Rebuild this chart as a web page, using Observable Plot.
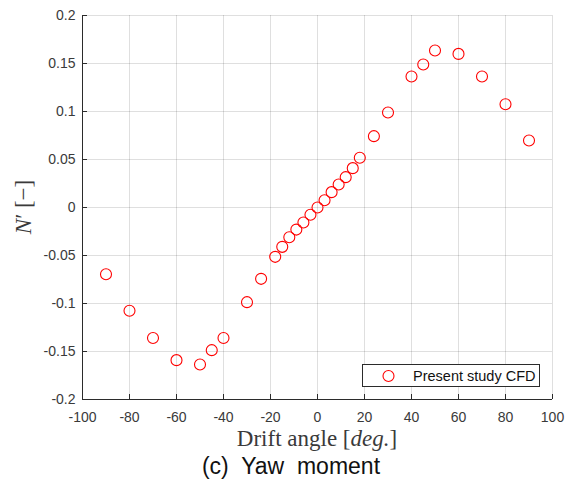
<!DOCTYPE html>
<html><head><meta charset="utf-8">
<script src="https://cdn.jsdelivr.net/npm/d3@7"></script>
<script src="https://cdn.jsdelivr.net/npm/@observablehq/plot@0.6"></script>
<style>
body{margin:0;background:#fff;}
#wrap{position:relative;width:574px;height:488px;background:#fff;overflow:hidden;}
#wrap svg{position:absolute;left:0;top:0;}
#caption{position:absolute;left:0;width:582px;top:455px;text-align:center;font-family:"Liberation Sans",Arial,sans-serif;font-size:23px;line-height:22px;color:#111;white-space:pre;}
</style></head><body><div id="wrap"></div>
<script>
const driftAngle = [-90,-80,-70,-60,-50,-45,-40,-30,-24,-18,-15,-12,-9,-6,-3,0,3,6,9,12,15,18,24,30,40,45,50,60,70,80,90];
const yawMoment = [-0.0695,-0.1076,-0.136,-0.159,-0.1635,-0.1486,-0.136,-0.0986,-0.0743,-0.0514,-0.041,-0.031,-0.023,-0.0156,-0.0076,0,0.0076,0.016,0.024,0.0316,0.041,0.0518,0.0743,0.099,0.1365,0.149,0.1635,0.160,0.1365,0.1076,0.0698];
const xTicks = [-100,-80,-60,-40,-20,0,20,40,60,80,100];
const xTickLabels = ["-100","-80","-60","-40","-20","0","20","40","60","80","100"];
const yTicks = [-0.2,-0.15,-0.1,-0.05,0,0.05,0.1,0.15,0.2];
const yTickLabels = ["-0.2","-0.15","-0.1","-0.05","0","0.05","0.1","0.15","0.2"];
const seriesName = "Present study CFD";
const captionText = "(c)  Yaw  moment";

const data = driftAngle.map((a, i) => ({a, n: yawMoment[i]}));
const AX = "#2b2b2b";
const TXT = "#3a3a3a";

const chart = Plot.plot({
  width: 574, height: 454,
  marginLeft: 82, marginRight: 22, marginTop: 15, marginBottom: 55,
  style: {fontFamily: "'Liberation Sans', Arial, sans-serif", fontSize: "14px", color: TXT, background: "white", overflow: "visible"},
  x: {domain: [-100, 100]},
  y: {domain: [-0.2, 0.2]},
  marks: [
    Plot.gridX(xTicks, {stroke: AX, strokeOpacity: 0.15, strokeWidth: 1}),
    Plot.gridY(yTicks, {stroke: AX, strokeOpacity: 0.15, strokeWidth: 1}),
    Plot.axisX(xTicks, {tickSize: -5, tickPadding: 18, stroke: AX, fill: TXT, tickFormat: (d) => xTickLabels[xTicks.indexOf(d)], label: null}),
    Plot.axisY(yTicks, {tickSize: -5, tickPadding: 12, stroke: AX, fill: TXT, tickFormat: (d) => yTickLabels[yTicks.indexOf(d)], label: null}),
    Plot.ruleY([yTicks[0]], {stroke: AX, strokeWidth: 1}),
    Plot.ruleX([xTicks[0]], {stroke: AX, strokeWidth: 1}),
    Plot.dot(data, {x: "a", y: "n", r: 5.5, stroke: "#ff0000", strokeWidth: 1.1, fill: "none"})
  ]
});

const wrap = document.getElementById("wrap");
wrap.appendChild(chart);
const svg = d3.select(chart);
const serif = "'Liberation Serif', 'Times New Roman', serif";

// x-axis label
const xl = svg.append("text").attr("x", 317).attr("y", 446).attr("text-anchor", "middle")
  .attr("font-family", serif).attr("font-size", 23).attr("fill", TXT);
xl.append("tspan").text("Drift angle [");
xl.append("tspan").attr("font-style", "italic").text("deg.");
xl.append("tspan").text("]");

// y-axis label
const yl = svg.append("text").attr("transform", "translate(31,207) rotate(-90)").attr("text-anchor", "middle")
  .attr("font-family", serif).attr("font-size", 23).attr("fill", TXT);
yl.append("tspan").attr("font-style", "italic").text("N");
yl.append("tspan").text("\u2032 [\u2212]");

// legend
const lg = svg.append("g");
lg.append("rect").attr("x", 362.5).attr("y", 364.5).attr("width", 177).attr("height", 22)
  .attr("fill", "white").attr("stroke", AX).attr("stroke-width", 1);
lg.append("circle").attr("cx", 388.5).attr("cy", 376).attr("r", 5.5).attr("fill", "none").attr("stroke", "#ff0000").attr("stroke-width", 1.1);
lg.append("text").attr("x", 413).attr("y", 381).attr("text-anchor", "start").attr("font-size", 14.5).attr("fill", "#111").text(seriesName);

const cap = document.createElement("div");
cap.id = "caption";
cap.textContent = captionText;
wrap.appendChild(cap);
</script>
</body></html>
